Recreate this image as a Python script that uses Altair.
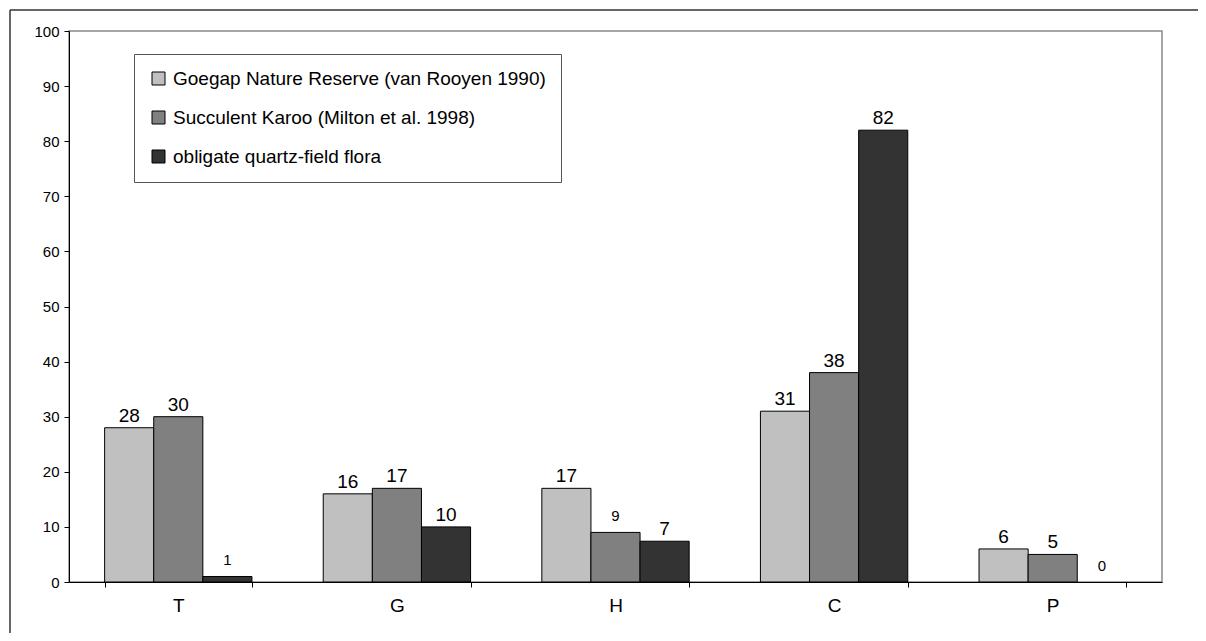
import altair as alt
import pandas as pd

categories = ["T", "G", "H", "C", "P"]
series = [
    "Goegap Nature Reserve (van Rooyen 1990)",
    "Succulent Karoo (Milton et al. 1998)",
    "obligate quartz-field flora",
]
goegap = [28, 16, 17, 31, 6]
karoo = [30, 17, 9, 38, 5]
quartz = [1, 10, 7.4, 82, 0]
small_label = [
    [False, False, False, False, False],
    [False, False, True, False, False],
    [True, False, False, False, True],
]
colors = ["#C0C0C0", "#808080", "#333333"]
y_ticks = list(range(0, 101, 10))

rows = []
for s, vals, smalls in zip(series, [goegap, karoo, quartz], small_label):
    for c, v, sm in zip(categories, vals, smalls):
        rows.append({"cat": c, "series": s, "value": v, "small": sm})
df = pd.DataFrame(rows)

FONT = "Liberation Sans, Arial, sans-serif"

x_enc = alt.X(
    "cat:N",
    sort=categories,
    title=None,
    scale=alt.Scale(paddingInner=0.326, paddingOuter=0.163),
    axis=alt.Axis(
        labelAngle=0,
        tickBand="extent",
        tickSize=5,
        tickColor="black",
        domainColor="black",
        labelFontSize=19,
        labelPadding=9,
        labelColor="black",
        labelFont=FONT,
    ),
)
xoff = alt.XOffset("series:N", sort=series, scale=alt.Scale(paddingInner=0, paddingOuter=0))
y_enc = alt.Y(
    "value:Q",
    title=None,
    scale=alt.Scale(domain=[0, 100], nice=False),
    axis=alt.Axis(
        values=y_ticks,
        grid=False,
        tickSize=5,
        tickColor="black",
        domainColor="black",
        labelFontSize=15,
        labelPadding=5,
        labelColor="black",
        labelFont=FONT,
    ),
)

base = alt.Chart(df)

bars = base.mark_bar(stroke="black", strokeWidth=1).encode(
    x=x_enc,
    xOffset=xoff,
    y=y_enc,
    strokeOpacity=alt.condition("datum.value > 0", alt.value(1), alt.value(0)),
    color=alt.Color(
        "series:N",
        sort=series,
        scale=alt.Scale(domain=series, range=colors),
        legend=alt.Legend(
            title=None,
            orient="none",
            legendX=65,
            legendY=23,
            direction="vertical",
            symbolType="square",
            symbolSize=169,
            symbolStrokeColor="black",
            symbolStrokeWidth=1,
            labelFontSize=19,
            labelFont=FONT,
            labelColor="black",
            labelOffset=5,
            labelLimit=600,
            padding=15,
            rowPadding=19,
            strokeColor="#555555",
            fillColor="white",
        ),
    ),
)

big_labels = base.transform_filter("!datum.small").mark_text(
    baseline="alphabetic", dy=-6, fontSize=19, font=FONT, color="black"
).encode(x=alt.X("cat:N", sort=categories), xOffset=xoff, y="value:Q", text=alt.Text("value:Q", format=".0f"))

small_labels = base.transform_filter("datum.small").mark_text(
    baseline="alphabetic", dy=-11, fontSize=15, font=FONT, color="black"
).encode(x=alt.X("cat:N", sort=categories), xOffset=xoff, y="value:Q", text=alt.Text("value:Q", format=".0f"))

frame_data = alt.Data(values=[{"f": 1}])
frame_top = alt.Chart(frame_data).mark_rule(stroke="#333333", strokeWidth=1.5).encode(
    x=alt.value(-59), x2=alt.value(1129), y=alt.value(-21)
)
frame_left = alt.Chart(frame_data).mark_rule(stroke="#333333", strokeWidth=1.5).encode(
    x=alt.value(-59), y=alt.value(-21), y2=alt.value(602)
)

chart = alt.layer(frame_top, frame_left, bars, big_labels, small_labels).properties(
    width=1093,
    height=551,
    autosize=alt.AutoSizeParams(type="none"),
    padding={"left": 61, "top": 23, "right": 36, "bottom": 51},
    background="white",
).configure_view(stroke="#888888", strokeWidth=1.5)

chart.save("out.html", embed_options={"renderer": "svg", "actions": False})
